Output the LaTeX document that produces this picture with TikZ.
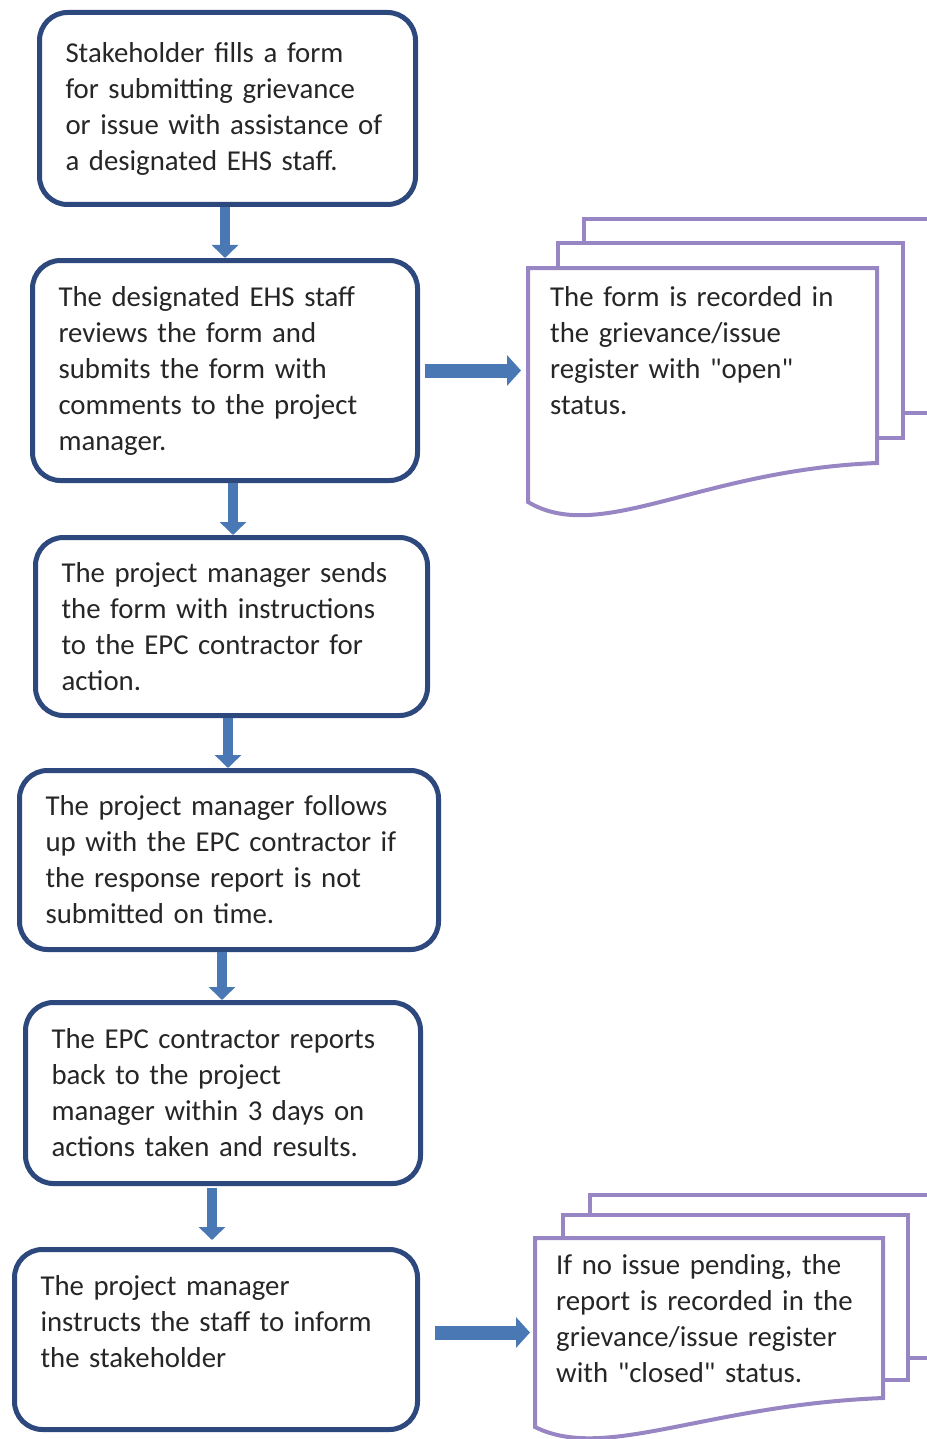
\documentclass[tikz,border=0pt]{standalone}
\usepackage{fontspec}
\setmainfont{Carlito}
\usetikzlibrary{arrows.meta}
\definecolor{boxblue}{RGB}{44,72,124}
\definecolor{arrowblue}{RGB}{74,120,180}
\definecolor{docpurple}{RGB}{152,134,196}
\definecolor{textgray}{RGB}{38,38,38}
\begin{document}
\begin{tikzpicture}[x=1pt, y=-1pt,
    stepbox/.style={rectangle, draw=boxblue, line width=5pt, rounded corners=28pt, fill=white, align=left, inner xsep=26pt, text=textgray, font=\fontsize{28.8}{36}\selectfont},
    doctext/.style={anchor=north west, align=left, text=textgray, font=\fontsize{28.8}{36}\selectfont},
    page/.style={draw=docpurple, line width=4pt, fill=white},
    downarrow/.style={draw=arrowblue, line width=10pt, -{Triangle[width=26pt,length=13pt]}},
    rightarrow/.style={draw=arrowblue, line width=14pt, -{Triangle[width=30pt,length=14pt]}}]
    \useasboundingbox (0,0) rectangle (926,1439);

    % register pages
    \draw[page] (584,219) rectangle (940,413);
    \draw[page] (558,243) rectangle (903,438);
    \draw[page] (528,268) -- (877,268) -- (877,463) .. controls (700,470) and (600,545) .. (528,502) -- cycle;
    \draw[page] (590,1195) rectangle (940,1358);
    \draw[page] (563,1215) rectangle (908,1380);
    \draw[page] (535,1238) -- (883,1238) -- (883,1398) .. controls (705,1405) and (605,1462) .. (535,1427) -- cycle;

    % steps
    \node[stepbox, minimum width=376pt, minimum height=192pt, text width=324pt] (b1) at (227.5,108.5)
        {Stakeholder fills a form\\ for submitting grievance\\ or issue with assistance of\\ a designated EHS staff.};
    \node[stepbox, minimum width=385pt, minimum height=220pt, text width=333pt] (b2) at (225,370.5)
        {The designated EHS staff\\ reviews the form and\\ submits the form with\\ comments to the project\\ manager.};
    \node[stepbox, minimum width=392pt, minimum height=178pt, text width=340pt] (b3) at (231.5,626.5)
        {The project manager sends\\ the form with instructions\\ to the EPC contractor for\\ action.};
    \node[stepbox, minimum width=419pt, minimum height=179pt, text width=367pt] (b4) at (229,860)
        {The project manager follows\\ up with the EPC contractor if\\ the response report is not\\ submitted on time.};
    \node[stepbox, minimum width=395pt, minimum height=181pt, text width=343pt] (b5) at (223,1093)
        {The EPC contractor reports\\ back to the project\\ manager within 3 days on\\ actions taken and results.};
    \node[stepbox, minimum width=403pt, minimum height=180pt, text width=351pt] (b6) at (216,1339.5)
        {The project manager\\ instructs the staff to inform\\ the stakeholder\\ \mbox{}};

    % register texts
    \node[doctext, inner xsep=22pt, inner ysep=18pt, text width=310pt] (doc1) at (528,268)
        {The form is recorded in\\ the grievance/issue\\ register with \textquotedbl open\textquotedbl\\ status.};
    \node[doctext, inner xsep=21pt, inner ysep=16pt, text width=310pt] (doc2) at (535,1238)
        {If no issue pending, the\\ report is recorded in the\\ grievance/issue register\\ with \textquotedbl closed\textquotedbl\ status.};

    % arrows
    \draw[downarrow] ([xshift=-2.5pt]b1.south) -- (b2.north);
    \draw[downarrow] ([xshift=8pt]b2.south) -- ([xshift=1.5pt]b3.north);
    \draw[downarrow] ([xshift=-3.5pt]b3.south) -- ([xshift=-1pt]b4.north);
    \draw[downarrow] ([xshift=-7pt]b4.south) -- ([xshift=-1pt]b5.north);
    \draw[downarrow, shorten <=2pt, shorten >=7pt] ([xshift=-11pt]b5.south) -- ([xshift=-4pt]b6.north);
    \draw[rightarrow, shorten <=5pt, shorten >=7pt] (b2.east) -- (b2.east -| doc1.west);
    \coordinate (a6) at ([yshift=7pt]b6.east);
    \draw[rightarrow, shorten <=15pt, shorten >=5pt] (a6) -- (a6 -| doc2.west);
\end{tikzpicture}
\end{document}
